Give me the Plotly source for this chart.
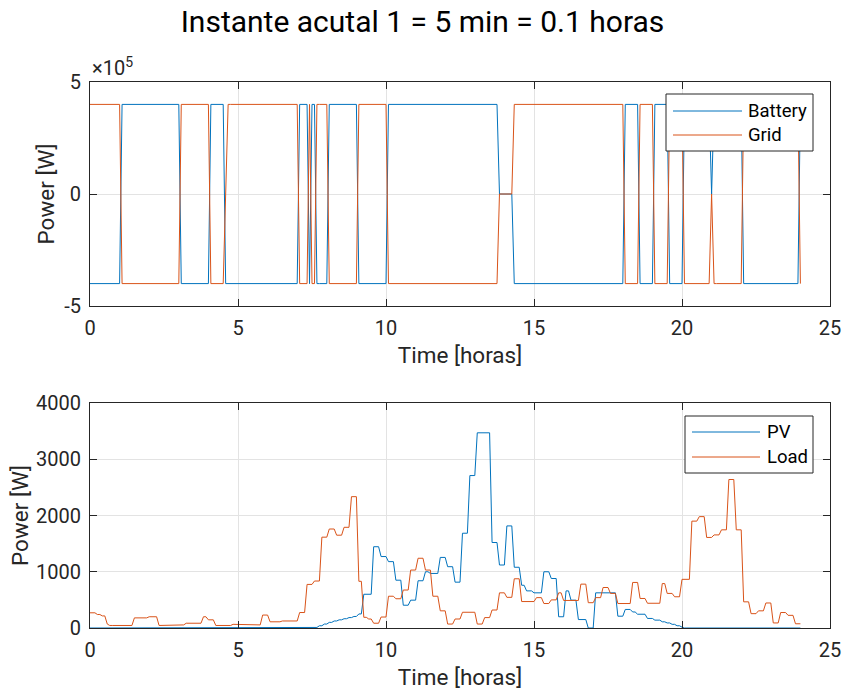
import numpy as np
import plotly.graph_objects as go

# ---------------- data (5-minute samples, k = 0..288, t = k/12 h) ----------------
N_SAMPLES = 289
SAMPLES_PER_HOUR = 12

# Top plot: segment start sample index and value (x1e5 W)
battery_start = [0, 13, 37, 49, 55, 85, 89, 90, 92, 97, 109, 121, 166, 172, 217, 223, 229, 235, 241, 252, 253, 265, 288]
battery_val   = [-4, 4, -4, 4, -4, 4, -4, 4, -4, 4, -4, 4, 0, -4, 4, -4, 4, -4, 4, 0, 4, -4, 4]

grid_start = [0, 13, 37, 49, 55, 56, 85, 89, 90, 92, 97, 109, 121, 166, 172, 217, 223, 229, 235, 241, 252, 253, 265, 288]
grid_val   = [4, -4, 4, -4, 0, 4, -4, 4, -4, 4, -4, 4, -4, 0, 4, -4, 4, -4, 4, -4, 0, -4, 4, -4]

# Bottom plot: segment start sample index and value (W)
pv_start = [0, 91, 93, 95, 97, 99, 101, 103, 105, 107, 109, 111, 115, 118, 121, 124, 127, 130, 133, 136, 138,
            142, 145, 148, 151, 154, 157, 163, 166, 169, 172, 175, 177, 180, 184, 187, 190, 193, 195, 198,
            202, 205, 214, 217, 220, 222, 226, 229, 232, 234, 236, 238, 240, 241]
pv_val = [0, 10, 40, 70, 100, 125, 145, 165, 185, 205, 250, 600, 1445, 1270, 1180, 850, 405, 495, 840, 1000, 970,
          1255, 1090, 815, 1685, 2710, 3470, 1520, 1120, 1815, 1080, 760, 660, 625, 1000, 880, 200, 660, 495, 150,
          0, 625, 210, 330, 285, 245, 170, 140, 110, 90, 65, 40, 15, 0]

load_start = [0, 3, 5, 7, 8, 18, 24, 28, 37, 39, 46, 48, 51, 58, 64, 70, 73, 78, 85, 88, 91, 94, 97, 100, 103,
              106, 109, 111, 113, 115, 118, 121, 124, 127, 130, 133, 136, 139, 142, 145, 148, 151, 157, 160,
              163, 166, 169, 172, 175, 181, 184, 187, 190, 192, 199, 202, 205, 208, 211, 214, 220, 223, 226,
              232, 234, 237, 240, 244, 247, 250, 253, 256, 259, 262, 265, 268, 271, 274, 277, 280, 283, 286]
load_val = [270, 240, 215, 70, 45, 180, 200, 45, 55, 85, 200, 145, 45, 65, 55, 230, 110, 125, 275, 775, 835, 1615,
            1760, 1650, 1790, 2335, 830, 190, 160, 85, 195, 565, 520, 675, 1030, 1240, 1030, 565, 305, 70, 160,
            280, 70, 185, 320, 625, 545, 875, 470, 540, 435, 500, 625, 490, 780, 450, 540, 720, 615, 435, 810,
            525, 440, 790, 615, 555, 865, 1900, 1980, 1610, 1655, 1745, 2640, 1745, 465, 255, 305, 445, 90,
            275, 225, 75]

SCALE_TOP = 1e5


def expand(starts, vals, n=N_SAMPLES):
    out = np.zeros(n)
    bounds = list(starts) + [n]
    for i, v in enumerate(vals):
        out[bounds[i]:bounds[i + 1]] = v
    return out


t = np.arange(N_SAMPLES) / SAMPLES_PER_HOUR
battery = expand(battery_start, battery_val) * SCALE_TOP
grid = expand(grid_start, grid_val) * SCALE_TOP
pv = expand(pv_start, pv_val)
load = expand(load_start, load_val)

# ---------------- figure ----------------
W, H = 845, 692
ML, MR, MT, MB = 90, 15, 82, 64
BLUE = "#0072BD"
ORANGE = "#D95319"
AX = "#262626"
GRIDC = "#E3E3E3"
FONT = "Roboto"
TICK_SIZE = 20
LABEL_SIZE = 22.5
LEGEND_SIZE = 18.5

PW = W - ML - MR
PH = H - MT - MB


def px(x):
    return (x - ML) / PW


def py(y):
    return (H - MB - y) / PH


fig = go.Figure()
fig.add_trace(go.Scatter(x=t, y=battery, mode="lines", name="Battery", showlegend=False,
                         line=dict(color=BLUE, width=1), xaxis="x", yaxis="y"))
fig.add_trace(go.Scatter(x=t, y=grid, mode="lines", name="Grid", showlegend=False,
                         line=dict(color=ORANGE, width=1), xaxis="x", yaxis="y"))
fig.add_trace(go.Scatter(x=t, y=pv, mode="lines", name="PV", showlegend=False,
                         line=dict(color=BLUE, width=1), xaxis="x2", yaxis="y2"))
fig.add_trace(go.Scatter(x=t, y=load, mode="lines", name="Load", showlegend=False,
                         line=dict(color=ORANGE, width=1), xaxis="x2", yaxis="y2"))

common_axis = dict(showline=True, linecolor=AX, linewidth=1, mirror="ticks", ticks="inside",
                   ticklen=7, tickcolor=AX, tickwidth=1, showgrid=True, gridcolor=GRIDC, gridwidth=1,
                   zeroline=False, automargin=False, ticklabelstandoff=4,
                   tickfont=dict(family=FONT, size=TICK_SIZE, color=AX))

TOP_DOMAIN = [py(306), 1.0]
BOT_DOMAIN = [0.0, py(403)]

xtitle = dict(text="Time [horas]", font=dict(family=FONT, size=LABEL_SIZE, color=AX), standoff=8)

# manual legend boxes (MATLAB style): box, line samples, labels
legends = [
    dict(box=(666, 94, 813, 151), items=[("Battery", BLUE, 111), ("Grid", ORANGE, 135)],
         line_x=(673, 742), text_x=746),
    dict(box=(685, 416, 813, 473), items=[("PV", BLUE, 432), ("Load", ORANGE, 457)],
         line_x=(692, 760), text_x=765),
]
shapes = []
annotations = [dict(text="×10<sup>5</sup>", xref="paper", yref="paper", x=0.0, y=1.0,
                    xanchor="left", yanchor="bottom", showarrow=False,
                    font=dict(family=FONT, size=20, color=AX))]
for lg in legends:
    x0, y0, x1, y1 = lg["box"]
    shapes.append(dict(type="rect", xref="paper", yref="paper", x0=px(x0), x1=px(x1), y0=py(y1), y1=py(y0),
                       line=dict(color=AX, width=1), fillcolor="white", layer="above"))
    for name, col, yy in lg["items"]:
        shapes.append(dict(type="line", xref="paper", yref="paper", x0=px(lg["line_x"][0]),
                           x1=px(lg["line_x"][1]), y0=py(yy), y1=py(yy),
                           line=dict(color=col, width=1), layer="above"))
        annotations.append(dict(text=name, xref="paper", yref="paper", x=px(lg["text_x"]), y=py(yy),
                                xanchor="left", yanchor="middle", showarrow=False,
                                font=dict(family=FONT, size=LEGEND_SIZE, color="#000000")))

fig.update_layout(
    width=W, height=H,
    margin=dict(l=ML, r=MR, t=MT, b=MB),
    paper_bgcolor="white", plot_bgcolor="white",
    font=dict(family=FONT, color=AX),
    showlegend=False,
    title=dict(text="Instante acutal 1 = 5 min = 0.1 horas", x=0.5, xanchor="center",
               y=0.969, yanchor="middle", automargin=False,
               font=dict(family=FONT, size=30, color="#000000")),
    xaxis=dict(domain=[0, 1], anchor="y", range=[0, 25], tickvals=[0, 5, 10, 15, 20, 25],
               title=xtitle, **common_axis),
    yaxis=dict(domain=TOP_DOMAIN, anchor="x", range=[-5e5, 5e5], tickvals=[-5e5, 0, 5e5],
               ticktext=["-5", "0", "5"],
               title=dict(text="Power [W]", font=dict(family=FONT, size=LABEL_SIZE, color=AX), standoff=3),
               **common_axis),
    xaxis2=dict(domain=[0, 1], anchor="y2", range=[0, 25], tickvals=[0, 5, 10, 15, 20, 25],
                title=xtitle, **common_axis),
    yaxis2=dict(domain=BOT_DOMAIN, anchor="x2", range=[0, 4000], tickvals=[0, 1000, 2000, 3000, 4000],
                title=dict(text="Power [W]", font=dict(family=FONT, size=LABEL_SIZE, color=AX), standoff=1),
                **common_axis),
    shapes=shapes,
    annotations=annotations,
)

fig.write_html("out.html", config={"displayModeBar": False},
               post_script="document.body.style.margin='0';document.body.style.padding='0';")
